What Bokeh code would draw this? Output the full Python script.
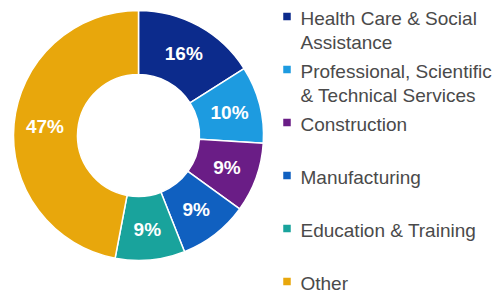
import numpy as np
from bokeh.plotting import figure
from bokeh.models import Range1d, ColumnDataSource
from bokeh.embed import file_html
from bokeh.resources import INLINE
from bokeh.core.properties import value

# ---- data ----
categories = ["Health Care & Social Assistance",
              "Professional, Scientific & Technical Services",
              "Construction", "Manufacturing", "Education & Training", "Other"]
legend_lines = [["Health Care & Social", "Assistance"],
                ["Professional, Scientific", "& Technical Services"],
                ["Construction"], ["Manufacturing"],
                ["Education & Training"], ["Other"]]
shares = [16, 10, 9, 9, 9, 47]
labels = ["16%", "10%", "9%", "9%", "9%", "47%"]
colors = ["#0c2b8c", "#1d9be0", "#6a1d86", "#1060c0", "#19a39c", "#e8a70c"]

# ---- layout ----
W, H = 502, 295
p = figure(width=W, height=H, x_range=Range1d(0, W), y_range=Range1d(0, H),
           output_backend="svg", toolbar_location=None, min_border=0)
p.axis.visible = False
p.grid.visible = False
p.outline_line_color = None
p.background_fill_color = "white"
p.border_fill_color = "white"


def X(s):
    return s


def Y(s):
    return H - s


cx, cy = X(138), Y(135)
frac = np.array(shares, dtype=float) / sum(shares)
cum = np.concatenate([[0.0], np.cumsum(frac)])
start = np.pi / 2 - 2 * np.pi * cum[1:]
end = np.pi / 2 - 2 * np.pi * cum[:-1]
mid = (start + end) / 2

wsrc = ColumnDataSource(dict(start=start, end=end, color=colors))
p.annular_wedge(x=cx, y=cy, inner_radius=61, outer_radius=125,
                inner_radius_units="screen", outer_radius_units="screen",
                start_angle="start", end_angle="end", fill_color="color",
                line_color="white", line_width=1.5, source=wsrc)

r_lab = 94
lsrc = ColumnDataSource(dict(x=cx + r_lab * np.cos(mid), y=cy + r_lab * np.sin(mid), t=labels))
p.text(x="x", y="y", text="t", source=lsrc, text_color="white",
       text_font=value("Liberation Sans"), text_font_style="bold",
       text_font_size="19px", text_align="center", text_baseline="middle")

# ---- legend ----
step = 53
centers = [16 + step * k for k in range(len(categories))]
p.scatter(x=[X(286.5)] * len(categories), y=[Y(c) for c in centers],
          marker="square", size=7.5, fill_color=colors, line_color=None)

tx, ty, tt = [], [], []
for c, lines in zip(centers, legend_lines):
    for j, ln in enumerate(lines):
        tx.append(X(300))
        ty.append(Y(c + 1.5 + 24 * j))
        tt.append(ln)
p.text(x=tx, y=ty, text=tt, text_color="#4a4a4a",
       text_font=value("Liberation Sans"), text_font_size="19px",
       text_align="left", text_baseline="alphabetic")

open("out.html", "w").write(file_html(p, INLINE))
